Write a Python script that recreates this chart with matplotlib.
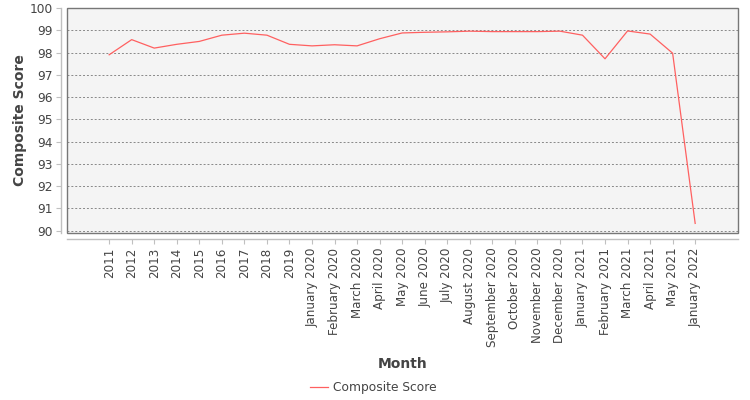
import matplotlib
matplotlib.use("Agg")
import matplotlib.pyplot as plt
from matplotlib.patches import Rectangle
from matplotlib.lines import Line2D

months = ["2011", "2012", "2013", "2014", "2015", "2016", "2017", "2018", "2019",
          "January 2020", "February 2020", "March 2020", "April 2020", "May 2020",
          "June 2020", "July 2020", "August 2020", "September 2020", "October 2020",
          "November 2020", "December 2020", "January 2021", "February 2021",
          "March 2021", "April 2021", "May 2021", "January 2022"]
composite = [97.9, 98.58, 98.2, 98.37, 98.5, 98.78, 98.87, 98.78, 98.37,
             98.3, 98.35, 98.3, 98.62, 98.88,
             98.91, 98.93, 98.96, 98.94, 98.94,
             98.94, 98.96, 98.78, 97.72,
             98.97, 98.83, 97.97, 90.33]
y_ticks = list(range(90, 101))

plt.rcParams['font.family'] = ['DejaVu Sans']
fig = plt.figure(figsize=(7.5, 4.0), dpi=100)
ax = fig.add_axes([67/750, 1-233/400, (738-67)/750, (233-8)/400])
ax.set_facecolor("#f4f4f4")

x = list(range(len(months)))
ax.plot(x, composite, color="#ff6060", linewidth=0.9, label="Composite Score")

ax.set_xlim(-1.87, len(months) - 1 + 1.9)
ax.set_ylim(89.9, 100)
ax.set_yticks(y_ticks)
ax.set_xticks(x)
ax.set_xticklabels(months)
ax.yaxis.grid(True, linestyle=(0, (2, 2)), color="#888888", linewidth=0.7)
ax.set_axisbelow(True)

for s in ["top", "right"]:
    ax.spines[s].set_visible(False)
for s in ["left", "bottom"]:
    ax.spines[s].set_position(("outward", 4))
    ax.spines[s].set_color("#c0c0c0")
    ax.spines[s].set_linewidth(1.0)
ax.add_patch(Rectangle((0, 0), 1, 1, transform=ax.transAxes, fill=False,
                       edgecolor="#777777", linewidth=1.0, clip_on=False, zorder=5))

ax.tick_params(axis="both", colors="#c0c0c0", labelcolor="#444444", labelsize=8.6,
               length=3.5, width=0.8)
ax.tick_params(axis="x", pad=3, labelrotation=90)
ax.tick_params(axis="y", pad=2.5, labelsize=8.8)

ax.set_ylabel("Composite Score", fontsize=10, fontweight="bold", color="#444444")
ax.yaxis.set_label_coords((27 - 67) / 671, 0.5)
ax.set_xlabel("Month", fontsize=10, fontweight="bold", color="#444444")
ax.xaxis.set_label_coords(0.5, -(357 - 233) / 225)

handle = Line2D([], [], color="#ff6060", linewidth=0.9)
fig.legend([handle], ["Composite Score"], loc="center", bbox_to_anchor=(373/750, 1-388/400),
           frameon=False, fontsize=8.8, handlelength=1.5, handletextpad=0.4,
           labelcolor="#444444")

fig.savefig("out.png", dpi=100, facecolor="white")
